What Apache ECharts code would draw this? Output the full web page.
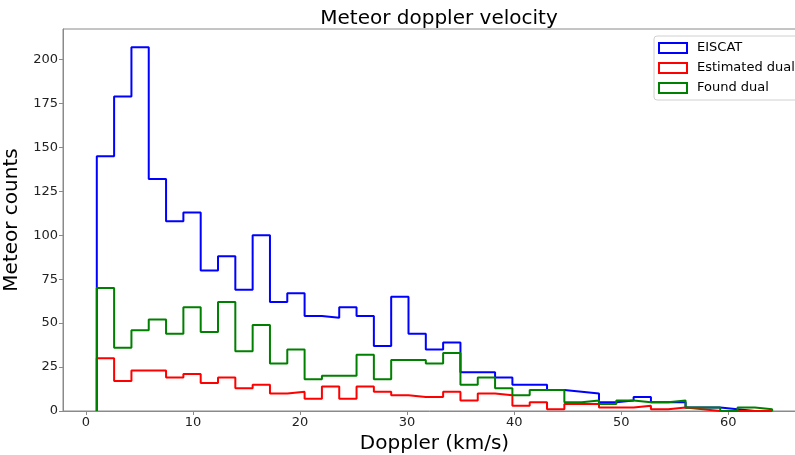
<!DOCTYPE html>
<html>
<head>
<meta charset="utf-8">
<script src="https://cdn.jsdelivr.net/npm/echarts@6/dist/echarts.min.js"></script>
<style>html,body{margin:0;padding:0;background:#fff;}#c{width:795px;height:455px;}</style>
</head>
<body>
<div id="c"></div>
<script>
// Histogram bins (km/s)
const binStart = 1.026;
const binWidth = 1.617;
const binCount = 39;

// Counts per bin
const eiscat = [145,179,207,132,108,113,80,88,69,100,62,67,54,53,59,54,37,65,44,35,39,22,22,19,15,15,12,11,10,5,6,8,5,5,2,2,1,0,0];
const estimatedDual = [30,17,23,23,19,21,16,19,13,15,10,11,7,14,7,14,11,9,8,8,11,6,10,9,3,5,1,4,4,2,2,3,1,2,1,0,0,0,0];
const foundDual = [70,36,46,52,44,59,45,62,34,49,27,35,18,20,20,32,18,29,29,27,33,15,19,13,9,12,12,5,6,4,6,5,5,6,2,2,0,2,1];

const seriesNames = ['EISCAT','Estimated dual','Found dual'];
const seriesColors = ['#0000ff','#ff0000','#008000'];

const xTicks = [0,10,20,30,40,50,60];
const yTicks = [0,25,50,75,100,125,150,175,200];

const edges = [];
for (let i = 0; i <= binCount; i++) edges.push(binStart + i * binWidth);

function stepPoints(vals) {
  const pts = [[edges[0], 0]];
  for (let i = 0; i < vals.length; i++) {
    pts.push([edges[i], vals[i]]);
    pts.push([edges[i + 1], vals[i]]);
  }
  pts.push([edges[vals.length], 0]);
  return pts;
}

const allVals = [eiscat, estimatedDual, foundDual];
const font = 'DejaVu Sans';
const axisGray = '#8a8a8a';

const chart = echarts.init(document.getElementById('c'), null, {renderer: 'canvas'});
chart.setOption({
  animation: false,
  backgroundColor: '#ffffff',
  textStyle: {fontFamily: font},
  title: {
    text: 'Meteor doppler velocity',
    left: 434, top: 4, textAlign: 'center',
    textStyle: {fontFamily: font, fontSize: 20, fontWeight: 'normal', color: '#000'}
  },
  grid: {
    left: 63, top: 29, right: -11, bottom: 44,
    outerBoundsMode: 'none', containLabel: false,
    show: true, borderColor: axisGray, borderWidth: 1, backgroundColor: 'transparent'
  },
  legend: {
    orient: 'vertical', left: 654, top: 36,
    itemWidth: 28, itemHeight: 10, itemGap: 6,
    padding: [5, 8, 5, 4],
    borderColor: '#d0d0d0', borderWidth: 1, borderRadius: 3,
    backgroundColor: 'rgba(255,255,255,0.85)',
    icon: 'rect',
    textStyle: {fontFamily: font, fontSize: 13, color: '#000', lineHeight: 14, padding: [0,0,0,5]},
    data: seriesNames.map((n, i) => ({
      name: n, icon: 'rect',
      itemStyle: {color: 'rgba(255,255,255,0)', borderColor: seriesColors[i], borderWidth: 2}
    }))
  },
  xAxis: {
    type: 'value', min: -2.13, max: 67.25,
    name: 'Doppler (km/s)', nameLocation: 'middle', nameGap: 17,
    nameTextStyle: {fontFamily: font, fontSize: 20, color: '#000'},
    axisLine: {show: true, onZero: false, lineStyle: {color: axisGray, width: 1}},
    axisTick: {show: true, length: 4, lineStyle: {color: axisGray}, customValues: xTicks},
    axisLabel: {customValues: xTicks, fontFamily: font, fontSize: 13, color: '#222', margin: 5},
    splitLine: {show: false}
  },
  yAxis: {
    type: 'value', min: 0, max: 217.35,
    name: 'Meteor counts', nameLocation: 'middle', nameGap: 33, nameRotate: 90,
    nameTextStyle: {fontFamily: font, fontSize: 20, color: '#000'},
    axisLine: {show: true, onZero: false, lineStyle: {color: axisGray, width: 1}},
    axisTick: {show: true, length: 4, lineStyle: {color: axisGray}, customValues: yTicks},
    axisLabel: {customValues: yTicks, fontFamily: font, fontSize: 13, color: '#222', margin: 5},
    splitLine: {show: false}
  },
  series: seriesNames.map((n, i) => ({
    name: n, type: 'line', data: stepPoints(allVals[i]),
    symbol: 'none', color: seriesColors[i],
    lineStyle: {color: seriesColors[i], width: 2},
    itemStyle: {color: seriesColors[i]},
    silent: true
  }))
});
</script>
</body>
</html>
